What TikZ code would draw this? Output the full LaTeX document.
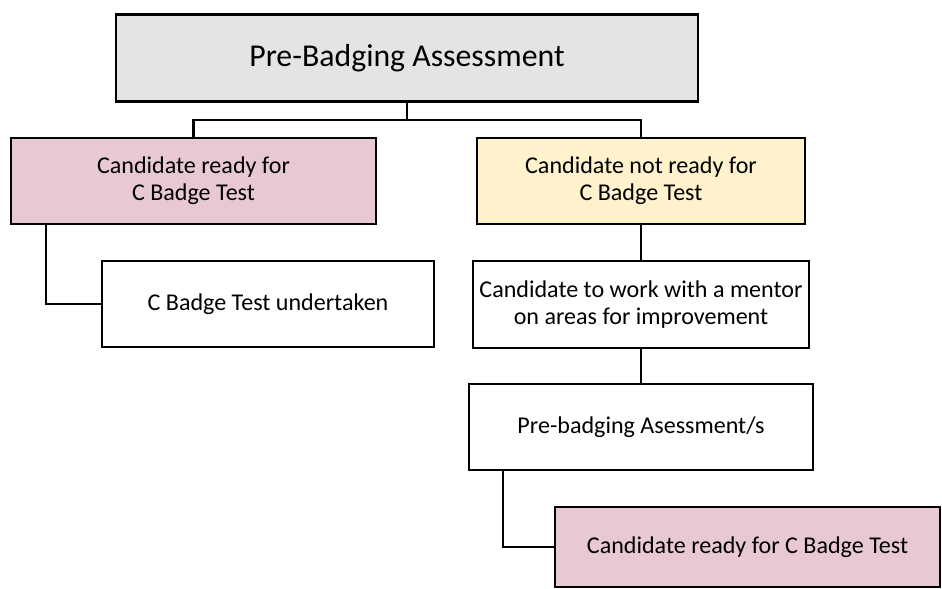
\documentclass[tikz,border=0pt]{standalone}
\usepackage{fontspec}
\setmainfont{Carlito}
\usepackage{xcolor}
\usepackage{tikz}

\definecolor{boxgray}{HTML}{E4E4E4}
\definecolor{boxpink}{HTML}{E8C9D3}
\definecolor{boxyellow}{HTML}{FFF2CC}

\begin{document}
\begin{tikzpicture}[x=0.02cm, y=0.02cm, line width=1.3pt,
  box/.style={draw=black, rectangle, align=center, inner sep=2pt,
    font=\fontsize{13.7}{15.5}\selectfont}]
\useasboundingbox (0,0) rectangle (942,-588);
% boxes
\node[box, fill=boxgray, minimum width=11.64cm, minimum height=1.74cm,
  font=\fontsize{18.1}{21}\selectfont] (assess) at (407,-58) {Pre-Badging Assessment};
\node[box, fill=boxpink, minimum width=7.3cm, minimum height=1.72cm] (ready) at (193.5,-181)
  {Candidate ready for\\C Badge Test};
\node[box, fill=boxyellow, minimum width=6.56cm, minimum height=1.72cm] (notready) at (641,-181)
  {Candidate not ready for\\C Badge Test};
\node[box, fill=white, minimum width=6.64cm, minimum height=1.72cm] (undertaken) at (268,-304)
  {C Badge Test undertaken};
\node[box, fill=white, minimum width=6.72cm, minimum height=1.74cm] (mentor) at (641,-304.5)
  {Candidate to work with a mentor\\on areas for improvement};
\node[box, fill=white, minimum width=6.88cm, minimum height=1.72cm] (prebadge) at (641,-427)
  {Pre-badging Asessment/s};
\node[box, fill=boxpink, minimum width=7.7cm, minimum height=1.6cm] (final) at (747.5,-547)
  {Candidate ready for C Badge Test};
% connectors
\coordinate (bar) at (407,-120);
\draw (assess) -- (bar);
\draw (ready.north) |- (bar) -| (notready.north);
\draw ([xshift=0.72cm]ready.south west) |- (undertaken.west);
\draw (notready) -- (mentor);
\draw (mentor) -- (prebadge);
\draw ([xshift=0.7cm]prebadge.south west) |- (final.west);
\end{tikzpicture}
\end{document}
